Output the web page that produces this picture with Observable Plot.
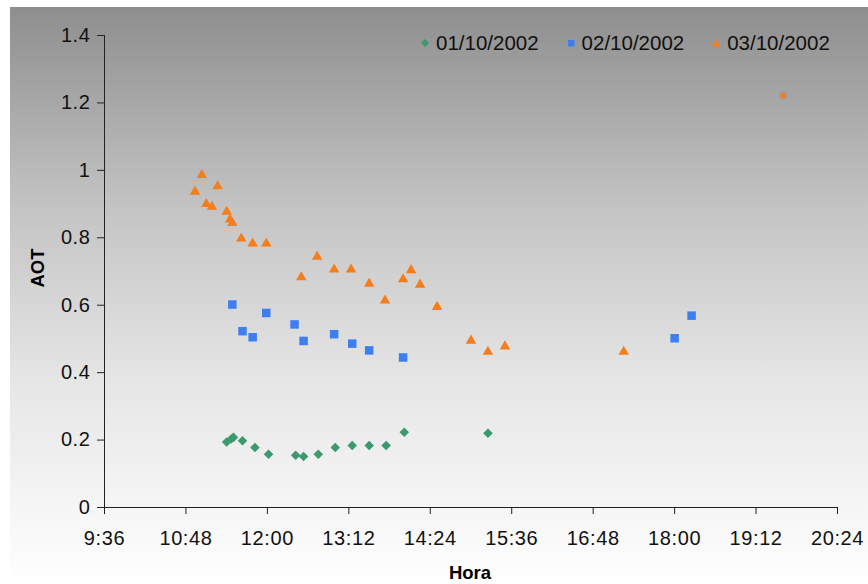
<!DOCTYPE html>
<html>
<head>
<meta charset="utf-8">
<script src="https://cdn.jsdelivr.net/npm/d3@7"></script>
<script src="https://cdn.jsdelivr.net/npm/@observablehq/plot@0.6"></script>
<style>
html, body { margin: 0; padding: 0; background: #fff; }
#wrap { position: relative; width: 868px; height: 584px; font-family: "Liberation Sans", Arial, sans-serif; }
#wrap svg { display: block; }
#wrap svg text { letter-spacing: 0.6px; }
.lab { position: absolute; font-weight: bold; font-size: 18.5px; color: #000; white-space: nowrap; }
#legend { position: absolute; top: 31px; left: 421px; font-size: 20.5px; color: #111; display: flex; align-items: center; }
#legend .it { display: flex; align-items: center; margin-right: 28px; }
#legend svg { margin-right: 7px; }
</style>
</head>
<body>
<div id="wrap"></div>
<script>
// ---- data ----
const seriesNames = ["01/10/2002", "02/10/2002", "03/10/2002"];
const seriesColors = ["#3a9a6c", "#3d7ff0", "#f57e1c"];

const hora1 = ["11:24","11:28","11:30","11:38","11:49","12:01","12:25","12:32","12:45","13:00","13:15","13:30","13:45","14:01","15:15"];
const aot1  = [0.194,0.203,0.208,0.198,0.178,0.158,0.155,0.151,0.158,0.178,0.184,0.184,0.184,0.223,0.220];

const hora2 = ["11:29","11:38","11:47","11:59","12:24","12:32","12:59","13:15","13:30","14:00","18:00","18:15"];
const aot2  = [0.602,0.523,0.505,0.577,0.543,0.494,0.514,0.486,0.466,0.445,0.502,0.569];

const hora3 = ["10:56","11:02","11:06","11:11","11:16","11:24","11:27","11:29","11:37","11:47","11:59","12:30","12:44","12:59","13:14","13:30","13:44","14:00","14:07","14:15","14:30","15:00","15:15","15:30","17:15","19:36"];
const aot3  = [0.934,0.983,0.897,0.889,0.950,0.874,0.851,0.841,0.795,0.780,0.780,0.680,0.741,0.703,0.703,0.661,0.611,0.674,0.701,0.658,0.592,0.492,0.459,0.475,0.459,1.222];

const xTickLabels = ["9:36","10:48","12:00","13:12","14:24","15:36","16:48","18:00","19:12","20:24"];
const yTicks = [0, 0.2, 0.4, 0.6, 0.8, 1, 1.2, 1.4];
const yTickLabels = ["0","0.2","0.4","0.6","0.8","1","1.2","1.4"];

// ---- helpers ----
const toMin = s => { const [h, m] = s.split(":").map(Number); return h * 60 + m; };
const xTicks = xTickLabels.map(toMin);
const rows = (hs, vs, k) => hs.map((h, i) => ({t: toMin(h), v: vs[i], s: seriesNames[k]}));
const d1 = rows(hora1, aot1, 0);
const d2 = rows(hora2, aot2, 1);
const d3r = rows(hora3, aot3, 2);
const d3main = d3r.filter(d => d.v < 1.1);
const d3out = d3r.filter(d => d.v >= 1.1);

const chart = Plot.plot({
  width: 868,
  height: 584,
  marginLeft: 104,
  marginRight: 31,
  marginTop: 35,
  marginBottom: 77,
  style: {
    fontFamily: "'Liberation Sans', Arial, sans-serif",
    fontSize: "20px",
    color: "#111",
    background: "linear-gradient(to bottom, #8e8e8e 0%, #c4c4c4 35%, #e6e6e6 65%, #ffffff 100%) 10px 7px / calc(100% - 10px) calc(100% - 7px) no-repeat, #ffffff",
    overflow: "visible"
  },
  x: {domain: [xTicks[0], xTicks[xTicks.length - 1]]},
  y: {domain: [yTicks[0], yTicks[yTicks.length - 1]]},
  marks: [
    Plot.axisX({ticks: xTicks, tickFormat: d => xTickLabels[xTicks.indexOf(d)], tickSize: 7, tickPadding: 16, label: null, stroke: "#222"}),
    Plot.axisY({ticks: yTicks, tickFormat: d => yTickLabels[yTicks.indexOf(d)], tickSize: 7, tickPadding: 7, label: null, stroke: "#222"}),
    Plot.ruleY([yTicks[0]], {stroke: "#222"}),
    Plot.ruleX([xTicks[0]], {stroke: "#222"}),
    Plot.dot(d1, {x: "t", y: "v", symbol: "diamond2", r: 4.3, fill: seriesColors[0], stroke: null}),
    Plot.dot(d2, {x: "t", y: "v", symbol: "square", r: 4.8, fill: seriesColors[1], stroke: null}),
    Plot.dot(d3main, {x: "t", y: "v", symbol: "triangle", r: 3.9, dy: -1, fill: seriesColors[2], stroke: null}),
    Plot.dot(d3out, {x: "t", y: "v", r: 5, fill: seriesColors[1], fillOpacity: 0.12, stroke: null}),
    Plot.dot(d3out, {x: "t", y: "v", r: 3, fill: seriesColors[2], stroke: null})
  ]
});

const wrap = document.getElementById("wrap");
wrap.appendChild(chart);

// axis titles
const hora = document.createElement("div");
hora.className = "lab";
hora.textContent = "Hora";
hora.style.left = "470px"; hora.style.top = "573px";
hora.style.transform = "translate(-50%, -50%)";
wrap.appendChild(hora);

const aot = document.createElement("div");
aot.className = "lab";
aot.textContent = "AOT";
aot.style.left = "38px"; aot.style.top = "268px";
aot.style.transform = "translate(-50%, -50%) rotate(-90deg)";
wrap.appendChild(aot);

// legend
const legend = document.createElement("div");
legend.id = "legend";
const shapes = [
  '<polygon points="4,0 8,4 4,8 0,4"/>',
  '<rect x="1" y="1" width="6.5" height="6.5"/>',
  '<polygon points="4,0.5 8,7.5 0,7.5"/>'
];
seriesNames.forEach((n, i) => {
  const it = document.createElement("div");
  it.className = "it";
  it.innerHTML = `<svg width="8" height="8" viewBox="0 0 8 8" style="fill:${seriesColors[i]}">${shapes[i]}</svg><span>${n}</span>`;
  legend.appendChild(it);
});
wrap.appendChild(legend);
</script>
</body>
</html>
